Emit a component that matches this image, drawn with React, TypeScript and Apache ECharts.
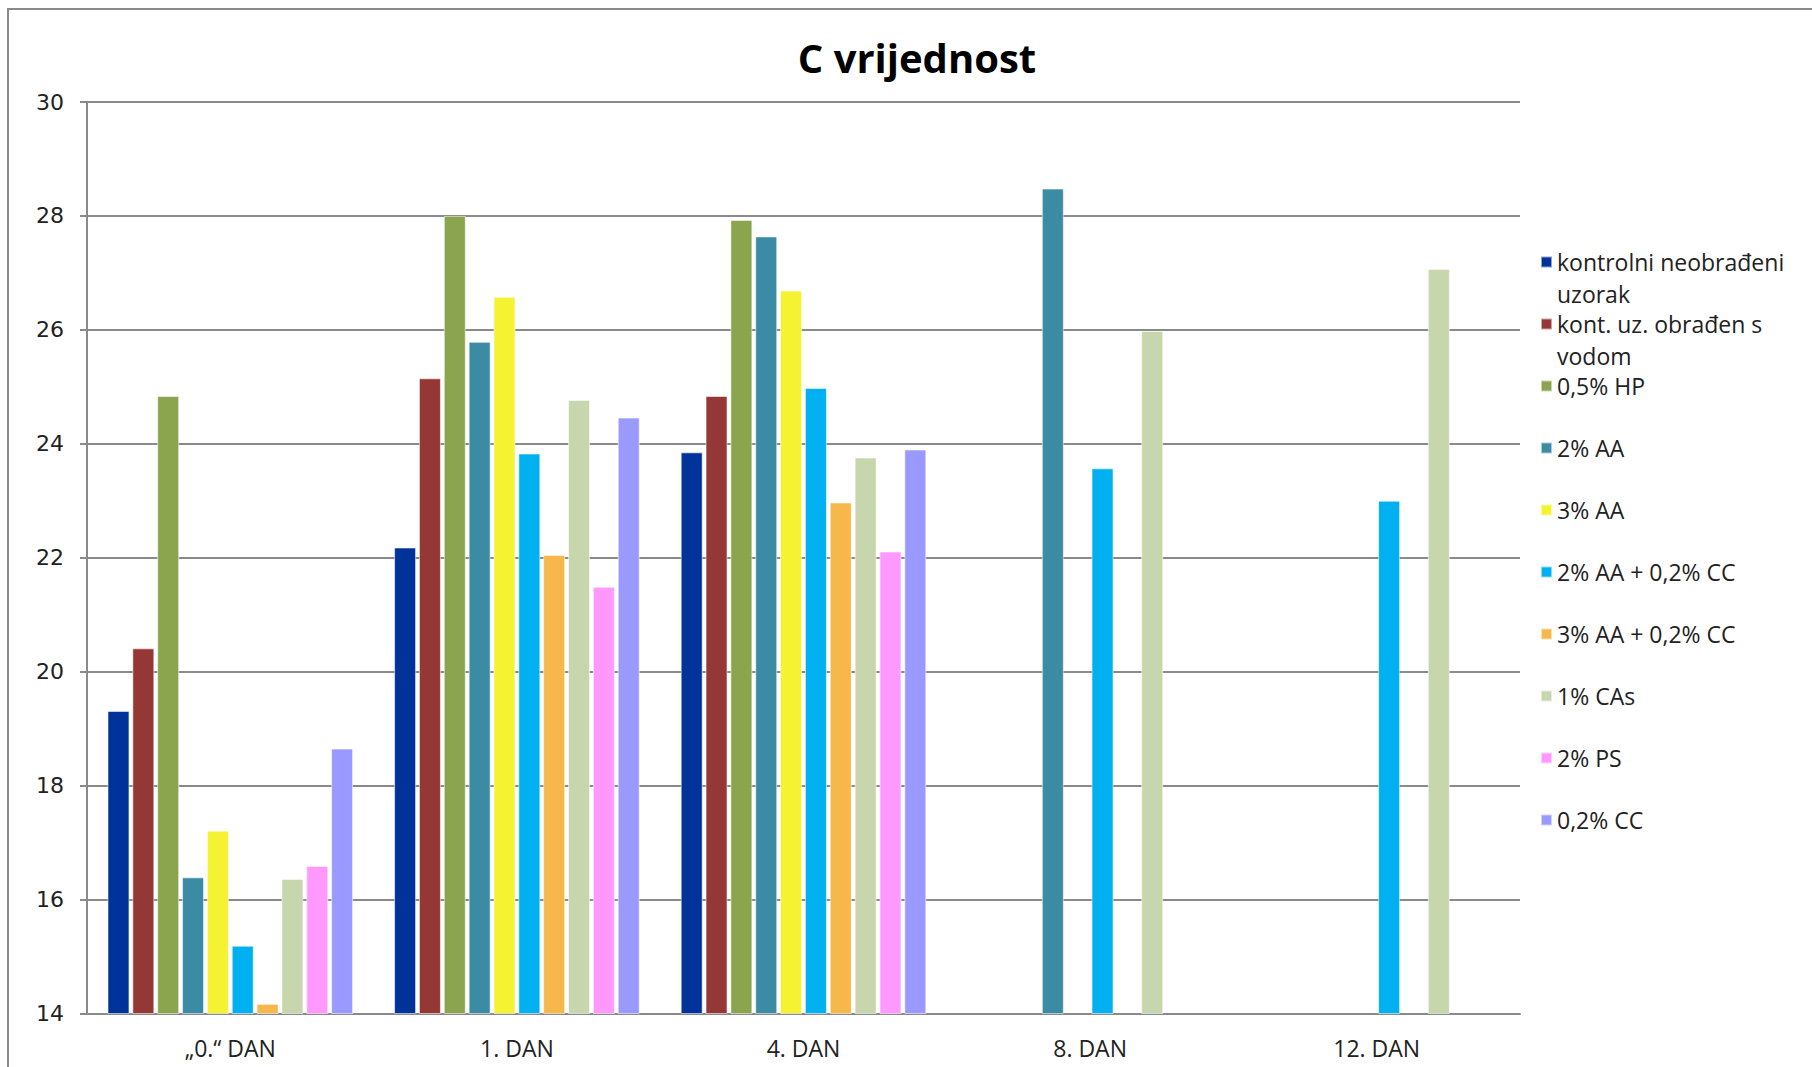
import React, { useEffect, useRef } from "react";
import * as echarts from "echarts";

const categories = ["„0.“ DAN", "1. DAN", "4. DAN", "8. DAN", "12. DAN"];

const seriesNames = [
  "kontrolni neobrađeni uzorak",
  "kont. uz. obrađen s vodom",
  "0,5% HP",
  "2% AA",
  "3% AA",
  "2% AA + 0,2% CC",
  "3% AA + 0,2% CC",
  "1% CAs",
  "2% PS",
  "0,2% CC",
];

const legendLabels = [
  " \nkontrolni neobrađeni\nuzorak",
  " \nkont. uz. obrađen s\nvodom",
  " \n0,5% HP\n ",
  " \n2% AA\n ",
  " \n3% AA\n ",
  " \n2% AA + 0,2% CC\n ",
  " \n3% AA + 0,2% CC\n ",
  " \n1% CAs\n ",
  " \n2% PS\n ",
  " \n0,2% CC\n ",
];

const colors = [
  "#003399",
  "#953735",
  "#8AA54E",
  "#3C8BA4",
  "#F5F231",
  "#00B0F0",
  "#F6B84A",
  "#C7D6AC",
  "#FF99FF",
  "#9999FF",
];

const kontrolniNeobradeni = [19.31, 22.18, 23.85, null, null];
const kontObradenVodom = [20.41, 25.15, 24.84, null, null];
const hp05 = [24.84, 28.0, 27.93, null, null];
const aa2 = [16.39, 25.79, 27.64, 28.48, null];
const aa3 = [17.21, 26.58, 26.69, null, null];
const aa2cc02 = [15.19, 23.83, 24.98, 23.57, 23.0];
const aa3cc02 = [14.17, 22.05, 22.97, null, null];
const cas1 = [16.36, 24.77, 23.76, 25.98, 27.07];
const ps2 = [16.59, 21.49, 22.11, null, null];
const cc02 = [18.65, 24.46, 23.9, null, null];

const seriesData = [
  kontrolniNeobradeni,
  kontObradenVodom,
  hp05,
  aa2,
  aa3,
  aa2cc02,
  aa3cc02,
  cas1,
  ps2,
  cc02,
];

const yMin = 14;
const yMax = 30;
const yInterval = 2;

export default function App() {
  const ref = useRef<HTMLDivElement>(null);

  useEffect(() => {
    if (!ref.current) return;
    const chart = echarts.init(ref.current, null, { renderer: "svg" });
    const lineH = 32;
    const option = {
      animation: false,
      backgroundColor: "#ffffff",
      title: {
        text: "C vrijednost",
        left: 912,
        top: 32,
        textAlign: "center",
        textStyle: {
          fontFamily: "Open Sans",
          fontWeight: "bold",
          fontSize: 40,
          color: "#000000",
        },
      },
      graphic: [
        {
          type: "rect",
          shape: { x: 8, y: 9, width: 1900, height: 1100 },
          style: { fill: "none", stroke: "#8a8a8a", lineWidth: 2 },
          silent: true,
          z: -10,
        },
      ],
      legend: {
        orient: "vertical",
        left: 1540,
        top: 214,
        padding: 0,
        itemGap: 62 - 3 * lineH,
        itemWidth: 11,
        itemHeight: 11,
        icon: "rect",
        data: seriesNames,
        formatter: (name: string) => legendLabels[seriesNames.indexOf(name)],
        textStyle: {
          fontFamily: "Open Sans",
          fontSize: 23,
          color: "#222222",
          lineHeight: lineH,
        },
      },
      grid: {
        left: 87,
        right: 292,
        top: 102,
        bottom: 53.5,
        containLabel: false,
      },
      xAxis: {
        type: "category",
        data: categories,
        axisLine: { show: true, lineStyle: { color: "#8a8a8a", width: 2 } },
        axisTick: { show: false },
        axisLabel: {
          margin: 23,
          fontFamily: "Open Sans",
          fontSize: 23,
          color: "#222222",
        },
      },
      yAxis: {
        type: "value",
        min: yMin,
        max: yMax,
        interval: yInterval,
        axisLine: { show: true, lineStyle: { color: "#8a8a8a", width: 2 } },
        axisTick: {
          show: true,
          inside: false,
          length: 7,
          lineStyle: { color: "#8a8a8a", width: 2 },
        },
        splitLine: { show: true, lineStyle: { color: "#8a8a8a", width: 2 } },
        axisLabel: {
          margin: 23,
          fontFamily: "DejaVu Sans",
          fontSize: 22,
          color: "#222222",
        },
      },
      series: seriesNames.map((name, i) => ({
        name,
        type: "bar",
        data: seriesData[i].map((v) => (v === null ? "-" : v)),
        barGap: "13%",
        barCategoryGap: "14.3%",
        itemStyle: {
          color: colors[i],
          borderColor: "rgba(255,255,255,0.55)",
          borderWidth: 1,
        },
      })),
    };
    chart.setOption(option as any);
    return () => {
      chart.dispose();
    };
  }, []);

  return (
    <div
      ref={ref}
      style={{ position: "absolute", left: 0, top: 0, width: 1812, height: 1067 }}
    />
  );
}
